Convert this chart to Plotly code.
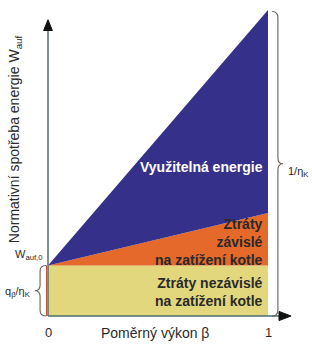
import plotly.graph_objects as go

# ---- data (relative units; total consumption at beta=1 is 1/eta_K = 1.0) ----
beta = [0, 1]
loss_indep = [0.165, 0.165]      # Ztráty nezávislé na zatížení kotle (top of yellow)
loss_dep_top = [0.165, 0.337]    # top of load-dependent losses (orange)
total_top = [0.165, 1.0]         # top of useful energy (blue)

x_ticks = [0, 1]
x_tick_labels = ["0", "1"]

YELLOW = "#E3D77E"
ORANGE = "#E4692A"
BLUE = "#35318A"
AXIS = "#4C6F70"
TXT = "#2a2a2a"
FONT = "Liberation Sans, Arial, sans-serif"

Y_MAX = 1.0

fig = go.Figure()
fig.add_trace(go.Scatter(x=beta, y=loss_indep, mode="lines", line=dict(width=0),
                         fill="tozeroy", fillcolor=YELLOW, hoverinfo="skip"))
fig.add_trace(go.Scatter(x=beta, y=loss_dep_top, mode="lines", line=dict(width=0),
                         fill="tonexty", fillcolor=ORANGE, hoverinfo="skip"))
fig.add_trace(go.Scatter(x=beta, y=total_top, mode="lines", line=dict(width=0),
                         fill="tonexty", fillcolor=BLUE, hoverinfo="skip"))

def py(v):
    return v / Y_MAX

shapes = []
# axes lines
shapes.append(dict(type="line", xref="paper", yref="paper", x0=0, y0=0, x1=0, y1=0.94,
                   line=dict(color=AXIS, width=1.5), layer="above"))
shapes.append(dict(type="line", xref="paper", yref="paper", x0=0, y0=0, x1=1.06, y1=0,
                   line=dict(color=AXIS, width=1.5), layer="above"))
# red edge line along yellow area
shapes.append(dict(type="line", xref="paper", yref="paper", x0=-0.007, y0=0, x1=-0.007,
                   y1=py(loss_indep[0]), line=dict(color="#C0503A", width=1), layer="above"))
# arrowheads
shapes.append(dict(type="path", xref="paper", yref="paper",
                   path="M -0.02,0.933 L 0,0.968 L 0.02,0.933 Z",
                   fillcolor="#111", line=dict(color="#111", width=1)))
shapes.append(dict(type="path", xref="paper", yref="paper",
                   path="M 1.05,-0.015 L 1.105,0 L 1.05,0.015 Z",
                   fillcolor="#111", line=dict(color="#111", width=1)))

BR = "#6a5f58"
# right brace: 0 .. total at beta=1
y0, y1 = 0.0, py(total_top[-1]) - 0.005
m = (y0 + y1) / 2
xb, xv, xt = 1.018, 1.045, 1.068
c = 0.02
shapes.append(dict(type="path", xref="paper", yref="paper",
                   path=(f"M {xb},{y1} Q {xv},{y1} {xv},{y1-c} L {xv},{m+c} "
                         f"Q {xv},{m} {xt},{m} Q {xv},{m} {xv},{m-c} L {xv},{y0+c} "
                         f"Q {xv},{y0} {xb},{y0}"),
                   line=dict(color=BR, width=1.1)))
# left brace: 0 .. independent losses
y0, y1 = 0.0, py(loss_indep[0])
m = (y0 + y1) / 2
xb, xv, xt = -0.008, -0.036, -0.06
c = 0.018
shapes.append(dict(type="path", xref="paper", yref="paper",
                   path=(f"M {xb},{y1} Q {xv},{y1} {xv},{y1-c} L {xv},{m+c} "
                         f"Q {xv},{m} {xt},{m} Q {xv},{m} {xv},{m-c} L {xv},{y0+c} "
                         f"Q {xv},{y0} {xb},{y0}"),
                   line=dict(color=BR, width=1.1)))

ann = []
# area labels
ann.append(dict(x=0.985, y=0.487, xref="x", yref="y", text="<b>Využitelná energie</b>",
                showarrow=False, xanchor="right", yanchor="middle", align="right",
                font=dict(family=FONT, size=14, color="white")))
ann.append(dict(x=0.985, y=0.242, xref="x", yref="y",
                text="<b>Ztráty<br>závislé<br>na zatížení kotle</b>",
                showarrow=False, xanchor="right", yanchor="middle", align="right",
                font=dict(family=FONT, size=14, color=TXT)))
ann.append(dict(x=0.985, y=0.08, xref="x", yref="y",
                text="<b>Ztráty nezávislé<br>na zatížení kotle</b>",
                showarrow=False, xanchor="right", yanchor="middle", align="right",
                font=dict(family=FONT, size=14, color=TXT)))
# side labels
ann.append(dict(x=-0.015, y=0.2, xref="paper", yref="paper", text="W<sub>auf,0</sub>",
                showarrow=False, xanchor="right", yanchor="middle",
                font=dict(family=FONT, size=11, color=TXT)))
ann.append(dict(x=-0.07, y=0.078, xref="paper", yref="paper", text="q<sub>β</sub>/η<sub>K</sub>",
                showarrow=False, xanchor="right", yanchor="middle",
                font=dict(family=FONT, size=11, color=TXT)))
ann.append(dict(x=1.083, y=0.472, xref="paper", yref="paper", text="1/η<sub>K</sub>",
                showarrow=False, xanchor="left", yanchor="middle",
                font=dict(family=FONT, size=11, color=TXT)))
# axis tick labels and titles
for v, t in zip(x_ticks, x_tick_labels):
    ann.append(dict(x=v, y=-0.055, xref="x", yref="paper", text=t, showarrow=False,
                    xanchor="center", yanchor="middle",
                    font=dict(family=FONT, size=13, color=TXT)))
ann.append(dict(x=0.487, y=-0.055, xref="paper", yref="paper", text="Poměrný výkon β",
                showarrow=False, xanchor="center", yanchor="middle",
                font=dict(family=FONT, size=14, color=TXT)))
ann.append(dict(x=-0.15, y=0.578, xref="paper", yref="paper",
                text="Normativní spotřeba energie W<sub>auf</sub>", textangle=-90,
                showarrow=False, xanchor="center", yanchor="middle",
                font=dict(family=FONT, size=14, color=TXT)))

fig.update_layout(
    width=312, height=350,
    margin=dict(l=48, r=44, t=10, b=34),
    paper_bgcolor="white", plot_bgcolor="white",
    showlegend=False,
    xaxis=dict(range=[0, 1], visible=False, fixedrange=True),
    yaxis=dict(range=[0, Y_MAX], visible=False, fixedrange=True),
    shapes=shapes, annotations=ann,
)

fig.write_html("out.html", config={"displayModeBar": False})
